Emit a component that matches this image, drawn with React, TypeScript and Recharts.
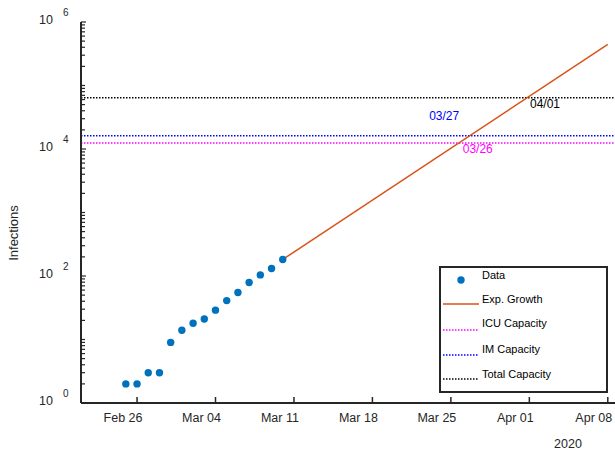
import React from "react"
import {
  ComposedChart,
  Scatter,
  Line,
  XAxis,
  YAxis,
  ReferenceLine,
  ReferenceDot,
} from "recharts"

// days counted from Feb 21, 2020
const caseDays = [4, 5, 6, 7, 8, 9, 10, 11, 12, 13, 14, 15, 16, 17, 18]
const caseCounts = [2, 2, 3, 3, 9, 14, 18, 21, 29, 41, 55, 79, 104, 131, 182]

const fitDays = [18, 47]
const fitValues = [182, 445000]

const icuCapacity = 12400
const imCapacity = 16200
const totalCapacity = 64300

const xTicks = [5, 12, 19, 26, 33, 40, 47]
const xTickLabels = ["Feb 26", "Mar 04", "Mar 11", "Mar 18", "Mar 25", "Apr 01", "Apr 08"]

const yMajor = [1, 100, 10000, 1000000]
const yExponents = ["0", "2", "4", "6"]

const annotations = [
  { label: "03/27", day: 32.4, value: 33100, color: "#0000FF" },
  { label: "04/01", day: 41.4, value: 51100, color: "#000000" },
  { label: "03/26", day: 35.4, value: 10000, color: "#FF00FF" },
]

const yTicks: number[] = []
for (let k = 0; k < 6; k++) {
  for (let m = 1; m < 10; m++) yTicks.push(m * Math.pow(10, k))
}
yTicks.push(1000000)

const caseData = caseDays.map((day, i) => ({ day, value: caseCounts[i] }))
const fitData = fitDays.map((day, i) => ({ day, value: fitValues[i] }))

const AXIS = "#262626"
const FONT = "'Liberation Sans', Arial, Helvetica, sans-serif"
const DOTS = "1.5 1.5"

function YTick({ x, y, payload }: any) {
  const idx = yMajor.indexOf(payload.value)
  const major = idx >= 0
  return (
    <g>
      <line x1={x} x2={x + (major ? 5 : 4)} y1={y} y2={y} stroke={AXIS} strokeWidth={1.2} />
      {major && (
        <>
          <text x={x - 28} y={y + 1.5} textAnchor="end" fontSize={12.5} fill={AXIS} fontFamily={FONT}>
            10
          </text>
          <text x={x - 18} y={y - 6.5} textAnchor="start" fontSize={10} fill={AXIS} fontFamily={FONT}>
            {yExponents[idx]}
          </text>
        </>
      )}
    </g>
  )
}

function XTick({ x, y, payload }: any) {
  const idx = xTicks.indexOf(payload.value)
  return (
    <g>
      <line x1={x} x2={x} y1={y} y2={y - 6} stroke={AXIS} strokeWidth={1.5} />
      <text x={x - 14} y={y + 19} textAnchor="middle" fontSize={12.5} fill={AXIS} fontFamily={FONT}>
        {xTickLabels[idx]}
      </text>
    </g>
  )
}

function TopTick({ x, y }: any) {
  return <line x1={x} x2={x} y1={y} y2={y + 6} stroke={AXIS} strokeWidth={1.5} />
}

const yTitle = () => (
  <text
    x={13.5}
    y={233}
    transform="rotate(-90 13.5 233)"
    textAnchor="middle"
    dominantBaseline="central"
    fontSize={13}
    fill={AXIS}
    fontFamily={FONT}
  >
    Infections
  </text>
)

const yearLabel = () => (
  <text x={568} y={444} textAnchor="middle" dominantBaseline="central" fontSize={12.5} fill={AXIS} fontFamily={FONT}>
    2020
  </text>
)

function LegendBox() {
  const rows = [
    { label: "Data", kind: "dot", color: "#0072BD" },
    { label: "Exp. Growth", kind: "solid", color: "#D95319" },
    { label: "ICU Capacity", kind: "dot-line", color: "#FF00FF" },
    { label: "IM Capacity", kind: "dot-line", color: "#0000FF" },
    { label: "Total Capacity", kind: "dot-line", color: "#000000" },
  ]
  const textY = [7, 31, 55, 81, 106]
  const lineY = [12, 36, 62, 87, 111]
  return (
    <div
      style={{
        position: "absolute",
        left: 439,
        top: 266,
        width: 169,
        height: 127,
        boxSizing: "border-box",
        border: `2px solid ${AXIS}`,
        background: "#fff",
      }}
    >
      <svg width={165} height={123} style={{ position: "absolute", left: 0, top: 0 }}>
        {rows.map((r, i) => (
          <g key={r.label}>
            {r.kind === "dot" && <circle cx={20} cy={lineY[i]} r={3.7} fill={r.color} />}
            {r.kind === "solid" && (
              <line x1={2} x2={38} y1={lineY[i]} y2={lineY[i]} stroke={r.color} strokeWidth={1.5} />
            )}
            {r.kind === "dot-line" && (
              <line
                x1={2}
                x2={38}
                y1={lineY[i]}
                y2={lineY[i]}
                stroke={r.color}
                strokeWidth={1.5}
                strokeDasharray={DOTS}
              />
            )}
            <text x={41} y={textY[i]} dominantBaseline="central" fontSize={11} fill="#000" fontFamily={FONT}>
              {r.label}
            </text>
          </g>
        ))}
      </svg>
    </div>
  )
}

export default function App() {
  return (
    <div
      style={{
        position: "absolute",
        left: 0,
        top: 0,
        width: 615,
        height: 454,
        overflow: "hidden",
        background: "#fff",
      }}
    >
      <ComposedChart width={640} height={454} margin={{ top: 22, right: 21, bottom: 0, left: 0 }}>
        <XAxis
          xAxisId={0}
          dataKey="day"
          type="number"
          domain={[0, 48]}
          ticks={xTicks}
          tick={<XTick />}
          tickSize={0}
          tickMargin={0}
          height={51}
          axisLine={{ stroke: AXIS, strokeWidth: 2 }}
          allowDataOverflow
          label={yearLabel}
        />
        <XAxis
          xAxisId="top"
          orientation="top"
          dataKey="day"
          type="number"
          domain={[0, 48]}
          ticks={xTicks}
          tick={<TopTick />}
          tickSize={0}
          tickMargin={0}
          height={0}
          axisLine={{ stroke: AXIS, strokeWidth: 2 }}
          allowDataOverflow
        />
        <YAxis
          scale="log"
          type="number"
          domain={[1, 1000000]}
          ticks={yTicks}
          interval={0}
          tick={<YTick />}
          tickSize={0}
          tickMargin={0}
          width={81}
          axisLine={{ stroke: AXIS, strokeWidth: 2 }}
          allowDataOverflow
          label={yTitle}
        />
        <ReferenceLine y={totalCapacity} stroke="#000000" strokeWidth={1.5} strokeDasharray={DOTS} />
        <ReferenceLine y={imCapacity} stroke="#0000FF" strokeWidth={1.5} strokeDasharray={DOTS} />
        <ReferenceLine y={icuCapacity} stroke="#FF00FF" strokeWidth={1.5} strokeDasharray={DOTS} />
        <Line
          data={fitData}
          dataKey="value"
          stroke="#D95319"
          strokeWidth={1.5}
          dot={false}
          isAnimationActive={false}
        />
        <Scatter
          data={caseData}
          dataKey="value"
          fill="#0072BD"
          isAnimationActive={false}
          shape={(p: any) => <circle cx={p.cx} cy={p.cy} r={3.7} fill="#0072BD" />}
        />
        {annotations.map((a) => (
          <ReferenceDot
            key={a.label}
            x={a.day}
            y={a.value}
            r={0}
            stroke="none"
            label={{ value: a.label, position: "center", fill: a.color, fontSize: 12, fontFamily: FONT }}
          />
        ))}
      </ComposedChart>
      <LegendBox />
    </div>
  )
}
